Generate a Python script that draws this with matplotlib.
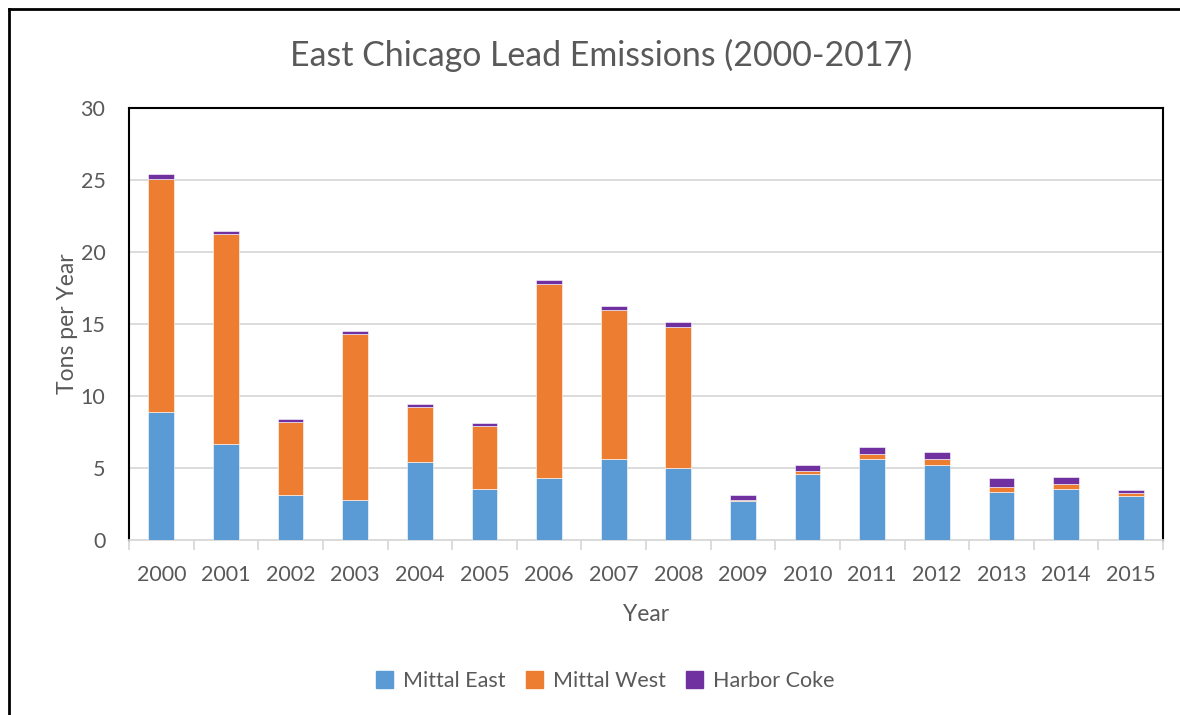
import matplotlib.pyplot as plt
import numpy as np
from matplotlib.lines import Line2D
from matplotlib.patches import Patch

years = [str(y) for y in range(2000, 2016)]
mittal_east = [8.87, 6.67, 3.12, 2.78, 5.44, 3.54, 4.28, 5.60, 5.00, 2.69, 4.61, 5.60, 5.23, 3.33, 3.54, 3.08]
mittal_west = [16.20, 14.58, 5.07, 11.55, 3.77, 4.40, 13.50, 10.35, 9.81, 0.09, 0.18, 0.35, 0.37, 0.37, 0.35, 0.21]
harbor_coke = [0.35, 0.19, 0.21, 0.18, 0.21, 0.16, 0.28, 0.28, 0.33, 0.32, 0.40, 0.51, 0.49, 0.58, 0.51, 0.18]

BLUE = "#5B9BD5"
ORANGE = "#ED7D31"
PURPLE = "#7030A0"
TEXT = "#595959"
GRID = "#D9D9D9"

plt.rcParams["font.family"] = ["Lato", "DejaVu Sans"]

fig = plt.figure(figsize=(11.8, 7.15), dpi=100)
ax = fig.add_axes([129 / 1180, 1 - 540 / 715, (1163 - 129) / 1180, (540 - 108) / 715])

x = np.arange(len(years))
me = np.array(mittal_east)
mw = np.array(mittal_west)
hc = np.array(harbor_coke)
w = 0.40
ax.bar(x, me, w, color=BLUE, edgecolor="white", linewidth=0.4, zorder=3)
ax.bar(x, mw, w, bottom=me, color=ORANGE, edgecolor="white", linewidth=0.4, zorder=3)
ax.bar(x, hc, w, bottom=me + mw, color=PURPLE, edgecolor="white", linewidth=0.4, zorder=3)

ax.set_xlim(-0.5, len(years) - 0.5)
ax.set_ylim(0, 30)
ax.set_yticks(range(0, 31, 5))
ax.yaxis.grid(True, color=GRID, linewidth=1.3, zorder=0)
ax.set_axisbelow(True)

ax.set_xticks(x)
ax.set_xticklabels(years)
ax.set_xticks(np.arange(-0.5, len(years), 1), minor=True)
ax.tick_params(axis="x", which="major", length=0, pad=18, labelsize=15.5, colors=TEXT)
ax.tick_params(axis="x", which="minor", length=7, width=1.3, color=GRID)
ax.tick_params(axis="y", length=0, pad=17, labelsize=15.5, colors=TEXT)

for side in ("left", "top", "right"):
    ax.spines[side].set_color("black")
    ax.spines[side].set_linewidth(1.5)
ax.spines["bottom"].set_color(GRID)
ax.spines["bottom"].set_linewidth(1.3)

ax.set_xlabel("Year", fontsize=16.5, color=TEXT, labelpad=14)
ax.set_ylabel("Tons per Year", fontsize=16.5, color=TEXT, labelpad=2)

fig.text(601 / 1180, 1 - 55 / 715, "East Chicago Lead Emissions (2000-2017)",
         ha="center", va="center", fontsize=24.4, color=TEXT)

handles = [Patch(color=BLUE, label="Mittal East"),
           Patch(color=ORANGE, label="Mittal West"),
           Patch(color=PURPLE, label="Harbor Coke")]
fig.legend(handles=handles, loc="center", bbox_to_anchor=(605 / 1180, 1 - 681 / 715),
           ncol=3, frameon=False, fontsize=15.5, labelcolor=TEXT,
           handlelength=0.8, handleheight=0.8, handletextpad=0.45, columnspacing=0.95)

# outer chart border (left and top visible)
fig.add_artist(Line2D([9 / 1180, 9 / 1180], [0, 1 - 9 / 715], color="black", linewidth=2))
fig.add_artist(Line2D([9 / 1180, 1], [1 - 9 / 715, 1 - 9 / 715], color="black", linewidth=2))

fig.savefig("out.png", dpi=100)
